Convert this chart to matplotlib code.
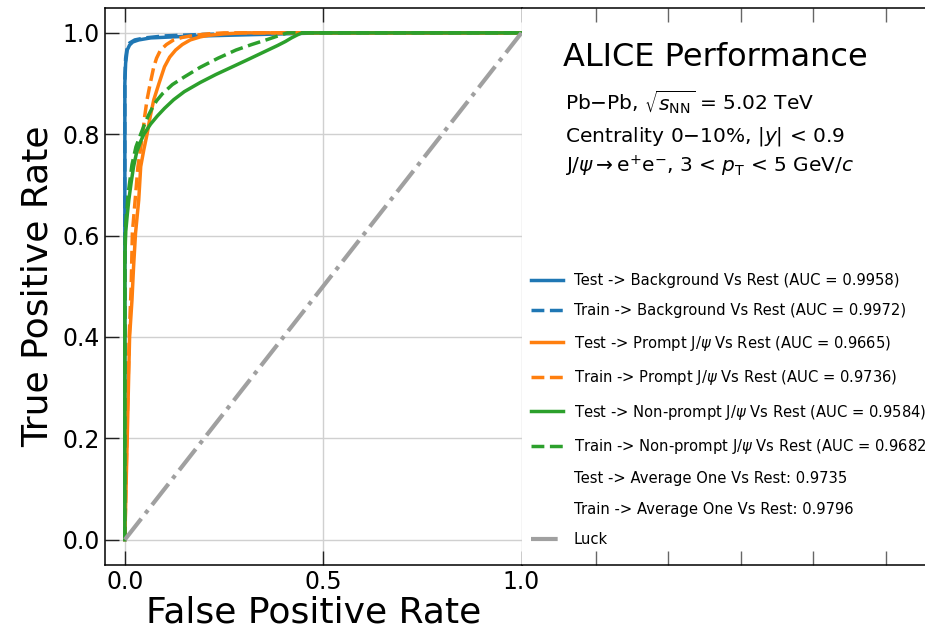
import matplotlib
matplotlib.use("Agg")
import matplotlib.pyplot as plt

plt.rcParams["font.family"] = ["DejaVu Sans"]
plt.rcParams["mathtext.fontset"] = "dejavusans"

# ROC curves (false positive rate, true positive rate) per class, test and train
bkg_test_fpr = [0, 0, 0.0, 0.002, 0.006, 0.012, 0.02, 0.035, 0.065, 0.15, 0.3, 0.5, 1.0]
bkg_test_tpr = [0, 0.60, 0.90, 0.94, 0.966, 0.976, 0.982, 0.986, 0.99, 0.993, 0.996, 1.0, 1.0]
bkg_train_fpr = [0, 0, 0.002, 0.006, 0.012, 0.025, 0.05, 0.1, 0.2, 0.4, 1.0]
bkg_train_tpr = [0, 0.91, 0.95, 0.972, 0.98, 0.986, 0.99, 0.994, 0.997, 1.0, 1.0]

prompt_test_fpr = [0, 0.006, 0.012, 0.018, 0.022, 0.027, 0.035, 0.040, 0.048, 0.056, 0.064,
                   0.073, 0.086, 0.10, 0.113, 0.128, 0.145, 0.165, 0.19, 0.21, 0.25, 0.3, 1.0]
prompt_test_tpr = [0, 0.2, 0.4, 0.473, 0.538, 0.605, 0.67, 0.736, 0.77, 0.80, 0.835,
                   0.868, 0.9, 0.933, 0.952, 0.966, 0.977, 0.986, 0.992, 0.995, 0.998, 1.0, 1.0]
prompt_train_fpr = [0, 0.005, 0.011, 0.016, 0.019, 0.026, 0.033, 0.045, 0.05, 0.056, 0.064,
                    0.073, 0.08, 0.09, 0.105, 0.123, 0.145, 0.174, 0.21, 0.25, 1.0]
prompt_train_tpr = [0, 0.2, 0.4, 0.5, 0.605, 0.67, 0.736, 0.80, 0.835, 0.868, 0.9,
                    0.933, 0.95, 0.966, 0.977, 0.986, 0.991, 0.995, 0.998, 1.0, 1.0]

nonprompt_test_fpr = [0, 0, 0.002, 0.006, 0.01, 0.016, 0.022, 0.03, 0.04, 0.048, 0.065, 0.082,
                      0.10, 0.123, 0.15, 0.19, 0.23, 0.274, 0.315, 0.358, 0.385, 0.405, 0.42,
                      0.435, 0.447, 1.0]
nonprompt_test_tpr = [0, 0.55, 0.605, 0.64, 0.67, 0.705, 0.736, 0.765, 0.786, 0.80, 0.82, 0.836,
                      0.851, 0.868, 0.884, 0.902, 0.918, 0.934, 0.949, 0.965, 0.975, 0.983, 0.99,
                      0.996, 1.0, 1.0]
nonprompt_train_fpr = [0, 0, 0.002, 0.008, 0.018, 0.028, 0.04, 0.05, 0.06, 0.07, 0.08, 0.095,
                       0.12, 0.15, 0.19, 0.235, 0.28, 0.32, 0.36, 0.39, 0.41, 1.0]
nonprompt_train_tpr = [0, 0.56, 0.62, 0.68, 0.74, 0.775, 0.80, 0.82, 0.838, 0.853, 0.866, 0.88,
                       0.898, 0.913, 0.932, 0.95, 0.966, 0.977, 0.987, 0.995, 1.0, 1.0]

luck_x = [0, 1]
luck_y = [0, 1]

auc_bkg = (0.9958, 0.9972)
auc_prompt = (0.9665, 0.9736)
auc_nonprompt = (0.9584, 0.9682)
auc_average = (0.9735, 0.9796)

x_ticks = [0.0, 0.5, 1.0]
y_ticks = [0.0, 0.2, 0.4, 0.6, 0.8, 1.0]

fig = plt.figure(figsize=(9.25, 6.31), dpi=100)
W, H = 925.0, 631.0
ax = fig.add_axes([105 / W, (H - 565) / H, (521.5 - 105) / W, (565 - 7.5) / H])
ax2 = fig.add_axes([521.5 / W, (H - 565) / H, (W - 521.5) / W, (565 - 7.5) / H])

blue, orange, green = "#1f77b4", "#ff7f0e", "#2ca02c"
lw = 2.5
ax.plot(bkg_test_fpr, bkg_test_tpr, color=blue, lw=lw,
        label=f"Test -> Background Vs Rest (AUC = {auc_bkg[0]:.4f})")
ax.plot(bkg_train_fpr, bkg_train_tpr, color=blue, lw=lw, ls="--",
        label=f"Train -> Background Vs Rest (AUC = {auc_bkg[1]:.4f})")
ax.plot(prompt_test_fpr, prompt_test_tpr, color=orange, lw=lw,
        label=rf"Test -> Prompt J/$\psi$ Vs Rest (AUC = {auc_prompt[0]:.4f})")
ax.plot(prompt_train_fpr, prompt_train_tpr, color=orange, lw=lw, ls="--",
        label=rf"Train -> Prompt J/$\psi$ Vs Rest (AUC = {auc_prompt[1]:.4f})")
ax.plot(nonprompt_test_fpr, nonprompt_test_tpr, color=green, lw=lw,
        label=rf"Test -> Non-prompt J/$\psi$ Vs Rest (AUC = {auc_nonprompt[0]:.4f})")
ax.plot(nonprompt_train_fpr, nonprompt_train_tpr, color=green, lw=lw, ls="--",
        label=rf"Train -> Non-prompt J/$\psi$ Vs Rest (AUC = {auc_nonprompt[1]:.4f}")
ax.plot([], [], " ", label=f"Test -> Average One Vs Rest: {auc_average[0]:.4f}")
ax.plot([], [], " ", label=f"Train -> Average One Vs Rest: {auc_average[1]:.4f}")
ax.plot(luck_x, luck_y, color="#a0a0a0", lw=3, ls="-.", label="Luck")

ax.set_xlim(-0.05, 1.0)
ax.set_ylim(-0.05, 1.05)
ax.set_xticks(x_ticks)
ax.set_yticks(y_ticks)
ax.grid(True, color="#d0d0d0", lw=1)
ax.tick_params(direction="in", length=10, width=1, labelsize=17, top=True,
               right=False, color="#222222")
ax.spines["right"].set_visible(False)
for s in ("top", "bottom", "left"):
    ax.spines[s].set_linewidth(1.1)
ax.set_xlabel("False Positive Rate", fontsize=26, labelpad=1)
ax.set_ylabel("True Positive Rate", fontsize=26, labelpad=6)

# right-hand panel holding the legend and the labels
ax2.set_xlim(-0.005, 1.108)
ax2.set_ylim(0, 1)
ax2.set_xticks([0.2, 0.4, 0.6, 0.8, 1.0])
ax2.set_yticks([])
ax2.tick_params(axis="x", direction="in", length=10, width=1, top=True,
                labelbottom=False, color="#666666")
ax2.spines["left"].set_visible(False)
ax2.spines["right"].set_visible(False)
for s in ("top", "bottom"):
    ax2.spines[s].set_linewidth(1.1)

handles, labels = ax.get_legend_handles_labels()
fig.legend(handles, labels, loc="center left", bbox_to_anchor=(531 / W, (H - 410) / H),
           frameon=False, borderpad=0, borderaxespad=0, fontsize=10.6,
           labelspacing=1.05, handlelength=2.2, handletextpad=0.72)

fig.text(563 / W, (H - 66.5) / H, "ALICE Performance", fontsize=23, va="baseline")
fig.text(565 / W, (H - 110) / H, r"Pb$-$Pb, $\sqrt{s_{\mathrm{NN}}}$ = 5.02 TeV",
         fontsize=14.5, va="baseline")
fig.text(565 / W, (H - 141.5) / H, r"Centrality 0$-$10%, $|y|$ < 0.9",
         fontsize=14.5, va="baseline")
fig.text(565 / W, (H - 172) / H,
         r"J/$\psi\rightarrow\mathrm{e}^{+}\mathrm{e}^{-}$, 3 < $p_{\mathrm{T}}$ < 5 GeV/$c$",
         fontsize=14.5, va="baseline")

fig.savefig("out.png", dpi=100)
